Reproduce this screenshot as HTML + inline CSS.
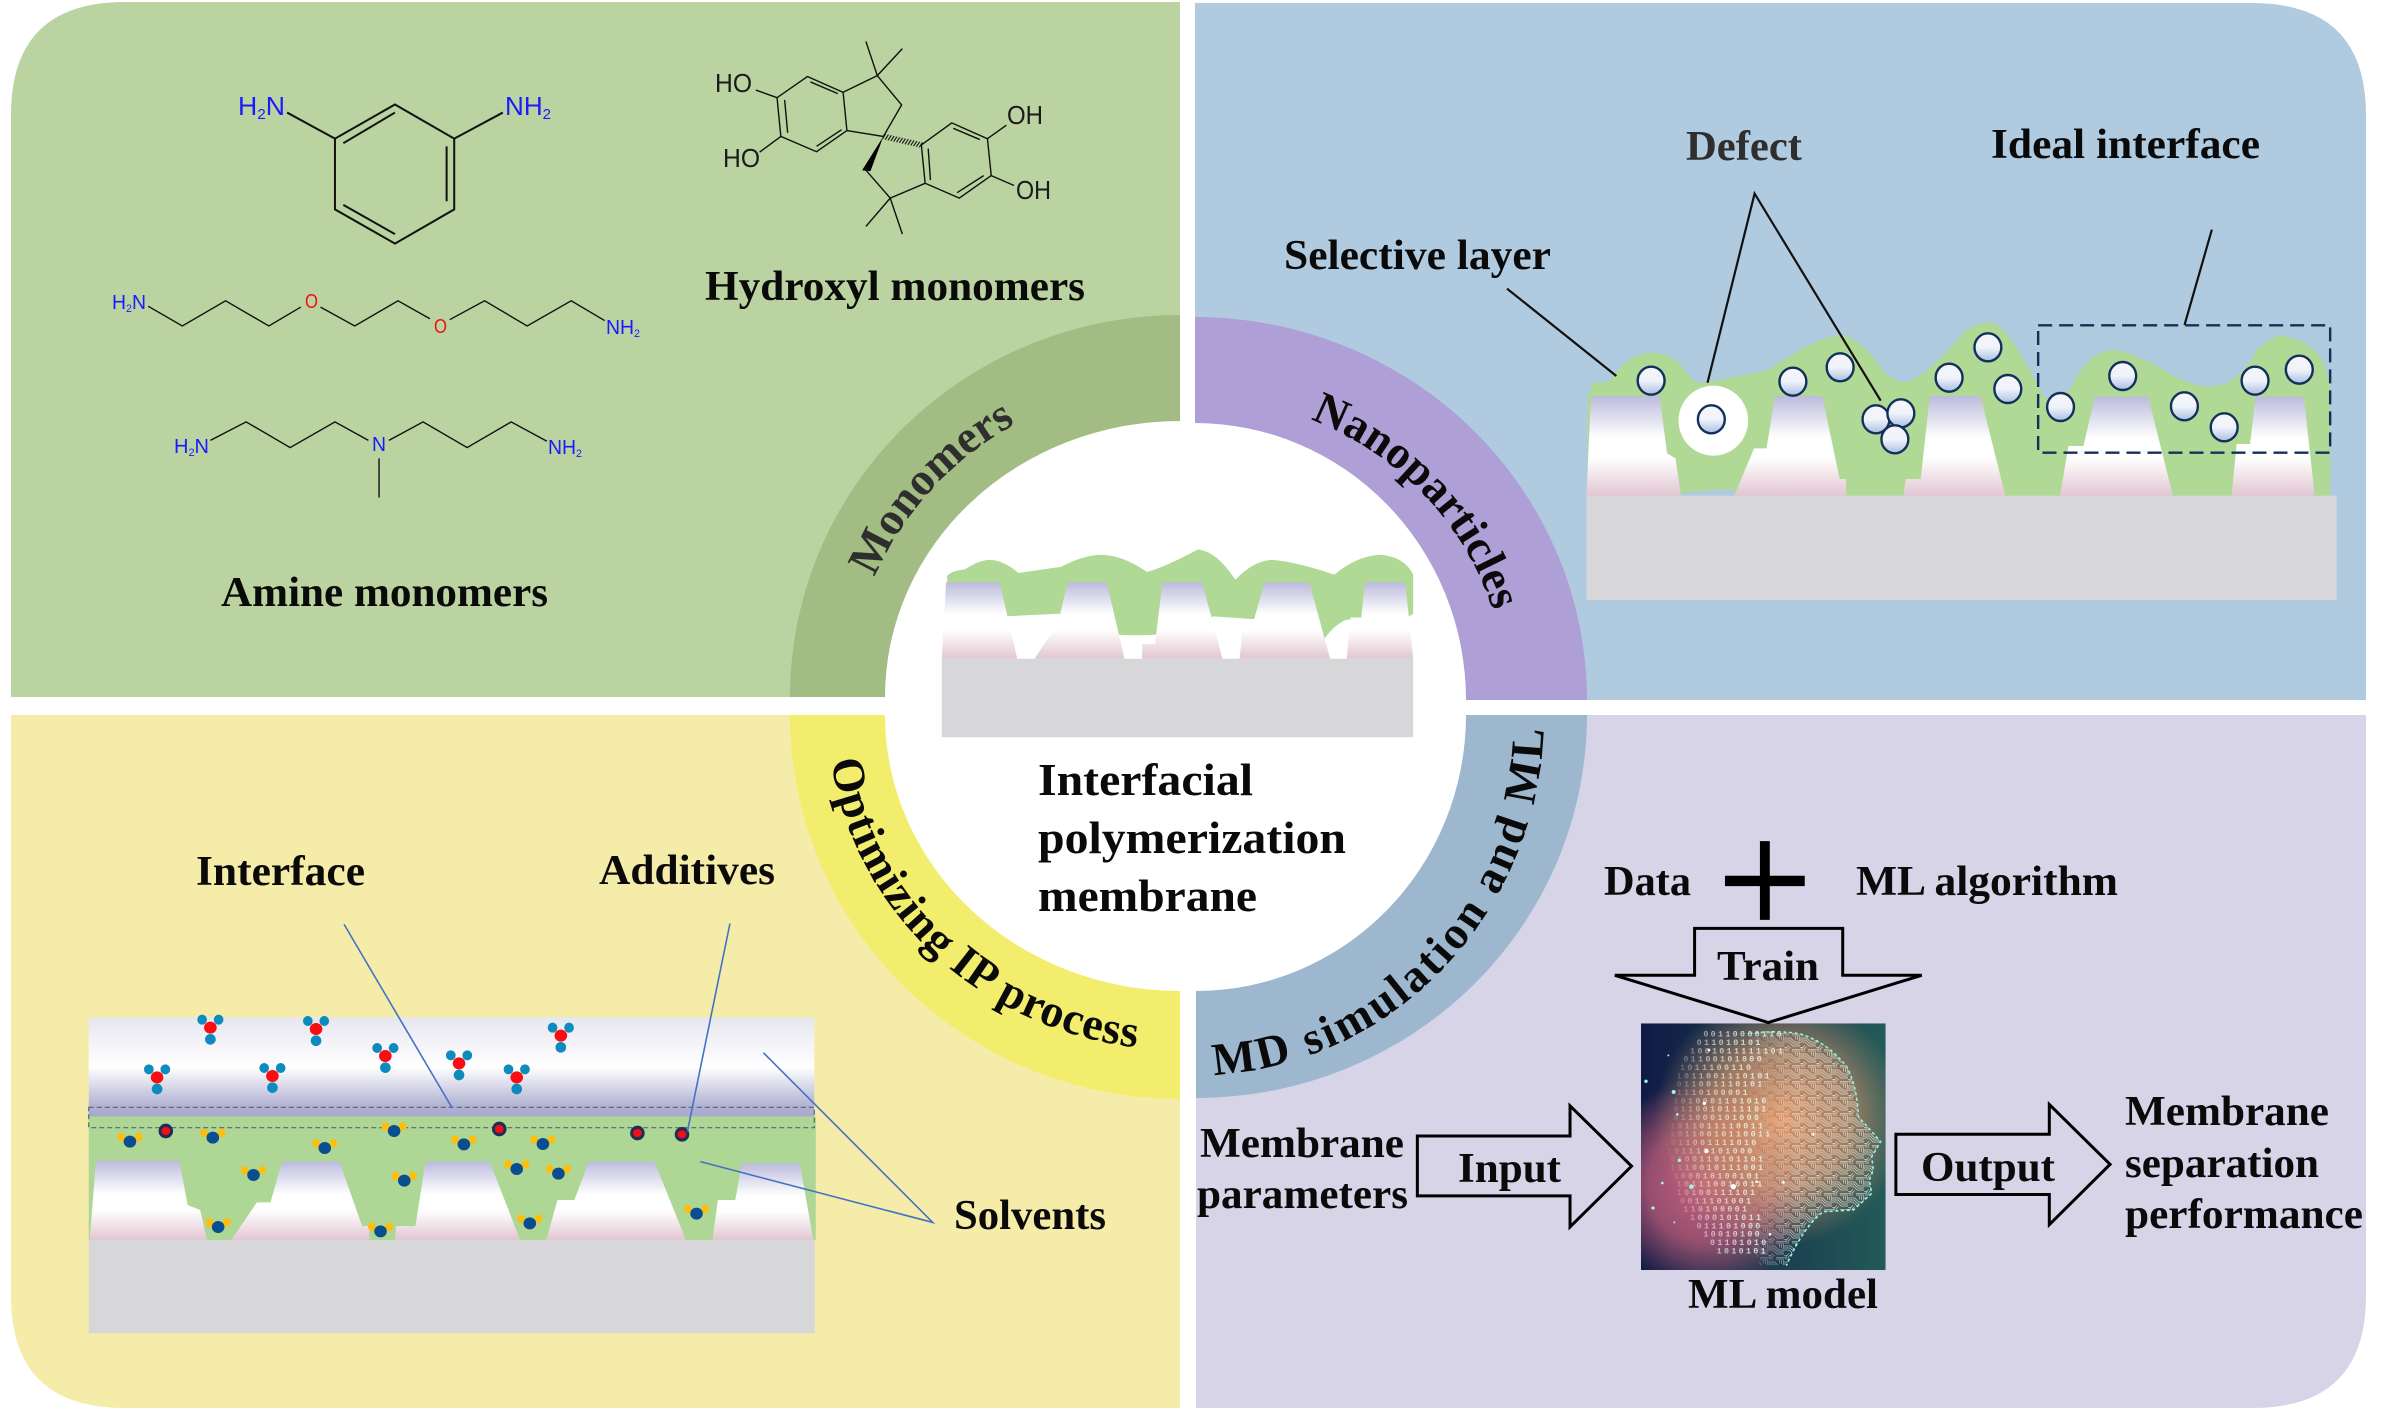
<!DOCTYPE html>
<html>
<head>
<meta charset="utf-8">
<title>Interfacial polymerization membrane</title>
<style>
html,body{margin:0;padding:0;background:#fff;width:2382px;height:1412px;overflow:hidden}
svg{display:block}
.t{font-family:"Liberation Serif",serif;font-weight:bold;font-size:42px;fill:#0a0a0a}
.c{font-family:"Liberation Sans",sans-serif;font-size:26px;fill:#1a1aff}
.k{fill:#1a1a1a}
.s{font-family:"Liberation Sans",sans-serif;font-size:20px;fill:#1a1aff}
.b{fill:none;stroke:#111;stroke-width:2;vector-effect:non-scaling-stroke}
.b2{fill:none;stroke:#111;stroke-width:1.4;vector-effect:non-scaling-stroke}
.l{fill:none;stroke:#111;stroke-width:2.2;vector-effect:non-scaling-stroke}
.bl{fill:none;stroke:#4472c4;stroke-width:1.6;vector-effect:non-scaling-stroke}
.ar{fill:none;stroke:#000;stroke-width:3;vector-effect:non-scaling-stroke}
.np{fill:url(#np);stroke:#14305a;stroke-width:2.4;vector-effect:non-scaling-stroke}
.a{font-family:"Liberation Serif",serif;font-weight:bold;font-size:46px;fill:#0a0a0a}
</style>
</head>
<body>
<svg xmlns="http://www.w3.org/2000/svg" width="2382" height="1412" viewBox="0 0 2382 1412">
<defs>
<linearGradient id="tr" x1="0" y1="0" x2="0" y2="1">
<stop offset="0" stop-color="#bcbbdc"/><stop offset=".42" stop-color="#ffffff"/><stop offset=".62" stop-color="#ffffff"/><stop offset="1" stop-color="#e2c6d2"/>
</linearGradient>
<linearGradient id="np" x1="0" y1="0" x2="0" y2="1">
<stop offset="0" stop-color="#f5f6fb"/><stop offset=".5" stop-color="#f0f3fa"/><stop offset="1" stop-color="#a9bfe2"/>
</linearGradient>
<linearGradient id="top" x1="0" y1="0" x2="0" y2="1">
<stop offset="0" stop-color="#e6e6ef"/><stop offset=".5" stop-color="#ffffff"/><stop offset=".9" stop-color="#b0b0d2"/><stop offset="1" stop-color="#a8a8cd"/>
</linearGradient>
<linearGradient id="aibase" gradientUnits="userSpaceOnUse" x1="3" y1="0" x2="737" y2="0">
<stop offset="0" stop-color="#101a45"/><stop offset="1" stop-color="#235a58"/>
</linearGradient>
<radialGradient id="aipink" gradientUnits="userSpaceOnUse" cx="200" cy="490" r="320">
<stop offset="0" stop-color="#c8607f"/><stop offset=".55" stop-color="#b85a78" stop-opacity=".8"/><stop offset="1" stop-color="#b85a78" stop-opacity="0"/>
</radialGradient>
<radialGradient id="aiorange" gradientUnits="userSpaceOnUse" cx="420" cy="300" r="380">
<stop offset="0" stop-color="#dd9468"/><stop offset=".55" stop-color="#c98f68" stop-opacity=".75"/><stop offset="1" stop-color="#b08a68" stop-opacity="0"/>
</radialGradient>
<linearGradient id="dig" gradientUnits="userSpaceOnUse" x1="70" y1="0" x2="340" y2="0">
<stop offset="0" stop-color="#fff" stop-opacity="0"/><stop offset=".5" stop-color="#f4fff8" stop-opacity=".55"/><stop offset="1" stop-color="#e6fff4" stop-opacity=".8"/>
</linearGradient>
<linearGradient id="fadeG" gradientUnits="userSpaceOnUse" x1="300" y1="0" x2="470" y2="0">
<stop offset="0" stop-color="#000"/><stop offset="1" stop-color="#fff"/>
</linearGradient>
<mask id="fade" maskUnits="userSpaceOnUse" x="0" y="0" width="780" height="810"><rect x="0" y="0" width="780" height="810" fill="url(#fadeG)"/></mask>
<pattern id="circ" patternUnits="userSpaceOnUse" width="48" height="48">
<g fill="none" stroke="#f6f4ea" stroke-width="2">
<path d="M0 6H20L32 18H48M0 12H18L30 24H48M0 18H15L27 30H48"/>
<path d="M6 48V38L15 28M12 48V40L20 32"/>
<path d="M34 0V10M40 0V12M46 0V15"/>
<path d="M0 34H9M0 40H7M24 40H48M24 45H48"/>
</g>
</pattern>
<clipPath id="aiclip"><rect x="3" y="10" width="734" height="740"/></clipPath>
<path id="pMono" d="M850 697A330 315 0 0 1 1180 382"/>
<path id="pNano" d="M1195 398A312 302 0 0 1 1507 700"/>
<path id="pOpt" d="M828 715A352 335 0 0 0 1180 1050"/>
<path id="pMD" d="M1196 1075A348 360 0 0 0 1544 715"/>
<g id="tri"><ellipse cx="-17" cy="-24" rx="10" ry="15" fill="#0d8bbd"/><ellipse cx="17" cy="-24" rx="10" ry="15" fill="#0d8bbd"/><ellipse cx="0" cy="35" rx="11" ry="16" fill="#0d8bbd"/><ellipse cx="0" cy="0" rx="13" ry="18" fill="#f70d12"/></g>
<g id="yb"><ellipse cx="-18" cy="-14" rx="8" ry="13" fill="#fcbf0e"/><ellipse cx="18" cy="-14" rx="8" ry="13" fill="#fcbf0e"/><ellipse cx="0" cy="0" rx="13" ry="18" fill="#0b4e8f"/></g>
<g id="rd"><ellipse cx="0" cy="0" rx="15" ry="22" fill="#1d2f57"/><ellipse cx="0" cy="0" rx="9" ry="12" fill="#f70d12"/></g>
</defs>

<!-- panels -->
<path d="M11 697V115Q11 2 125 2H1180V697Z" fill="#bad3a0"/>
<path d="M1195 3V700H2366V115Q2366 3 2252 3Z" fill="#b0cbdf"/>
<path d="M11 715H1180V1408H125Q11 1408 11 1296Z" fill="#f5ecaa"/>
<path d="M1196 715H2366V1296Q2366 1408 2252 1408H1196Z" fill="#d7d4e8"/>

<!-- ring -->
<path d="M790 697A390 382 0 0 1 1180 315V697Z" fill="#a2bc84"/>
<path d="M1195 317A392 383 0 0 1 1587 700H1195Z" fill="#aea0d6"/>
<path d="M790 715A390 384 0 0 0 1180 1099V715Z" fill="#f2ed6d"/>
<path d="M1196 1098A391 383 0 0 0 1587 715H1196Z" fill="#9db8ce"/>

<!-- white centre -->
<path d="M885 697A295 276 0 0 1 1180 421V697Z" fill="#fff"/>
<path d="M1195 423A271 277 0 0 1 1466 700H1195Z" fill="#fff"/>
<path d="M885 715A295 276 0 0 0 1180 991V715Z" fill="#fff"/>
<path d="M1196 991A270 276 0 0 0 1466 715H1196Z" fill="#fff"/>
<rect x="1180" y="421" width="15" height="570" fill="#fff"/>
<rect x="885" y="697" width="581" height="18" fill="#fff"/>

<!-- centre membrane -->
<g transform="translate(780 300) scale(.5357 .523)">
<path d="M312 545V528Q318 518 345 515Q375 495 395 497Q420 500 445 522L525 510Q565 488 600 487Q640 488 685 520Q720 510 780 477Q815 480 850 535Q885 497 920 497Q960 500 1035 525Q1075 490 1120 487Q1165 490 1182 525V600L1172 606L1090 607L1055 612Q1030 625 1015 650L880 610L810 605L700 640Q665 642 630 640L520 600L415 605L310 600Z" fill="#b0d995"/>
<path d="M310 540H410L443 686H302Z" fill="url(#tr)"/>
<path d="M537 540H610L643 686H475L505 640L522 605Z" fill="url(#tr)"/>
<path d="M714 540H788L826 686H676V658H700Z" fill="url(#tr)"/>
<path d="M905 540H988L1027 686H858L865 610H885Z" fill="url(#tr)"/>
<path d="M1092 540H1167L1182 686H1058L1065 607H1085Z" fill="url(#tr)"/>
<rect x="302" y="686" width="880" height="150" fill="#d7d6d8"/>
</g>

<!-- curved labels -->
<text class="a" style="fill:#2e2e2e"><textPath href="#pMono" startOffset="123">Monomers</textPath></text>
<text class="a"><textPath href="#pNano" startOffset="118">Nanoparticles</textPath></text>
<text class="a" letter-spacing=".8"><textPath href="#pOpt" startOffset="46">Optimizing IP process</textPath></text>
<text class="a" letter-spacing="3"><textPath href="#pMD" startOffset="18">MD simulation and ML</textPath></text>

<!-- centre text -->
<text class="t" style="font-size:46px" x="1038" y="795" textLength="215" lengthAdjust="spacingAndGlyphs">Interfacial</text>
<text class="t" style="font-size:46px" x="1038" y="853" textLength="308" lengthAdjust="spacingAndGlyphs">polymerization</text>
<text class="t" style="font-size:46px" x="1038" y="911" textLength="219" lengthAdjust="spacingAndGlyphs">membrane</text>

<!-- TL chem -->
<g transform="scale(.75957 .45026)">
<path class="b" d="M520 232L598 308V465L520 541L441 465V308Z"/>
<path class="b" d="M452 318L520 250M588 325V447M452 455L520 520M441 308L378 250M598 308L662 250"/>
<path class="b2" d="M195 680L240 724L297 668L354 724L396 682M422 682L467 724L524 668L566 708M592 710L638 668L694 724L752 668L796 712"/>
<path class="b2" d="M277 978L324 937L382 994L441 937L485 978M512 978L557 937L615 994L673 937L720 980M499 1018V1105"/>
<path class="b2" d="M1063 170L1110 205L1115 290L1075 337L1028 303L1023 217ZM1067 182L1103 208M1108 288L1075 325M1033 222L1037 295"/>
<path class="b2" d="M1110 205L1155 168L1187 233L1163 303L1115 290M1155 168L1140 92M1155 168L1188 108M1023 217L995 200M1028 303L1000 338"/>
<path d="M1163 303L1146 380L1135 378Z" fill="#000"/>
<path class="b2" d="M1140 378L1172 440L1218 407L1213 322L1253 273L1300 308L1305 390L1263 440L1218 407M1255 285L1290 310M1295 390L1260 428M1222 330L1225 400"/>
<path d="M1163 303L1213 322" fill="none" stroke="#111" stroke-width="12" stroke-dasharray="1.6 2.4"/>
<path class="b2" d="M1172 440L1140 503M1172 440L1188 520M1300 308L1325 278M1305 390L1335 412"/>
</g>
<text class="c" x="238" y="115" textLength="47" lengthAdjust="spacingAndGlyphs">H<tspan font-size="15" dy="4">2</tspan><tspan dy="-4">N</tspan></text>
<text class="c" x="505" y="115" textLength="46" lengthAdjust="spacingAndGlyphs">NH<tspan font-size="15" dy="4">2</tspan></text>
<text class="s" x="112" y="309" textLength="34" lengthAdjust="spacingAndGlyphs">H<tspan font-size="11" dy="3">2</tspan><tspan dy="-3">N</tspan></text>
<text class="s" x="606" y="334" textLength="34" lengthAdjust="spacingAndGlyphs">NH<tspan font-size="11" dy="3">2</tspan></text>
<text class="s" x="305" y="308" textLength="13" lengthAdjust="spacingAndGlyphs" style="fill:#f01010">O</text>
<text class="s" x="434" y="333" textLength="13" lengthAdjust="spacingAndGlyphs" style="fill:#f01010">O</text>
<text class="s" x="174" y="453" textLength="35" lengthAdjust="spacingAndGlyphs">H<tspan font-size="11" dy="3">2</tspan><tspan dy="-3">N</tspan></text>
<text class="s" x="548" y="454" textLength="34" lengthAdjust="spacingAndGlyphs">NH<tspan font-size="11" dy="3">2</tspan></text>
<text class="s" x="372" y="451" textLength="14" lengthAdjust="spacingAndGlyphs">N</text>
<text class="c k" x="715" y="92" textLength="37" lengthAdjust="spacingAndGlyphs">HO</text>
<text class="c k" x="723" y="167" textLength="37" lengthAdjust="spacingAndGlyphs">HO</text>
<text class="c k" x="1007" y="124" textLength="36" lengthAdjust="spacingAndGlyphs">OH</text>
<text class="c k" x="1016" y="199" textLength="35" lengthAdjust="spacingAndGlyphs">OH</text>
<text class="t" x="705" y="300" textLength="380" lengthAdjust="spacingAndGlyphs">Hydroxyl monomers</text>
<text class="t" x="221" y="606" textLength="327" lengthAdjust="spacingAndGlyphs">Amine monomers</text>

<!-- TR membrane -->
<g transform="translate(1580 300) scale(.49745 .33333)">
<path d="M15 587V290L25 250L60 243Q95 160 145 158Q185 155 215 220Q230 250 245 250L380 210Q480 105 530 105Q575 130 610 215Q635 250 655 245Q690 240 770 100Q800 65 825 68Q855 75 900 200L935 295L985 270Q1020 150 1075 150Q1120 160 1190 225Q1250 275 1300 250Q1340 215 1360 150Q1395 105 1410 107Q1470 120 1495 190L1508 250V587Z" fill="#b0d995"/>
<path d="M203 580L270 568L310 570V587H203Z" fill="#b0cbdf"/>
<path d="M22 288H160L175 460L192 475L203 587H13Z" fill="url(#tr)"/>
<path d="M392 288H487L522 537H535V587H310L350 445H375Z" fill="url(#tr)"/>
<path d="M703 288H805L855 587H650L655 537H685Z" fill="url(#tr)"/>
<path d="M1035 290H1142L1192 587H965L982 438H1012Z" fill="url(#tr)"/>
<path d="M1358 290H1455L1477 587H1310L1320 432H1347Z" fill="url(#tr)"/>
<ellipse cx="268" cy="362" rx="70" ry="105" fill="#fff"/>
<rect x="13" y="587" width="1508" height="313" fill="#d7d6d8"/>
<ellipse class="np" cx="143" cy="242" rx="27" ry="42"/>
<ellipse class="np" cx="264" cy="358" rx="27" ry="42"/>
<ellipse class="np" cx="428" cy="245" rx="27" ry="42"/>
<ellipse class="np" cx="523" cy="202" rx="27" ry="42"/>
<ellipse class="np" cx="595" cy="358" rx="27" ry="42"/>
<ellipse class="np" cx="645" cy="340" rx="27" ry="42"/>
<ellipse class="np" cx="633" cy="418" rx="27" ry="42"/>
<ellipse class="np" cx="742" cy="233" rx="27" ry="42"/>
<ellipse class="np" cx="820" cy="142" rx="27" ry="42"/>
<ellipse class="np" cx="860" cy="267" rx="27" ry="42"/>
<ellipse class="np" cx="966" cy="321" rx="27" ry="42"/>
<ellipse class="np" cx="1091" cy="228" rx="27" ry="42"/>
<ellipse class="np" cx="1215" cy="319" rx="27" ry="42"/>
<ellipse class="np" cx="1295" cy="382" rx="27" ry="42"/>
<ellipse class="np" cx="1357" cy="242" rx="27" ry="42"/>
<ellipse class="np" cx="1446" cy="209" rx="27" ry="42"/>
<rect x="921" y="76" width="587" height="382" fill="none" stroke="#14305a" stroke-width="2.4" stroke-dasharray="14 7" vector-effect="non-scaling-stroke"/>
</g>
<g transform="translate(1191 0) scale(.75957 .45026)">
<path class="l" d="M416 641L560 835M680 850L742 430L908 890M1344 510L1308 722"/>
</g>
<text class="t" x="1686" y="160" textLength="116" lengthAdjust="spacingAndGlyphs" style="fill:#2e2e2e">Defect</text>
<text class="t" x="1991" y="158" textLength="269" lengthAdjust="spacingAndGlyphs">Ideal interface</text>
<text class="t" x="1284" y="269" textLength="267" lengthAdjust="spacingAndGlyphs">Selective layer</text>

<!-- BL membrane -->
<g transform="translate(80 1000) scale(.4847 .33333)">
<rect x="18" y="52" width="1497" height="298" fill="url(#top)"/>
<rect x="18" y="350" width="1500" height="370" fill="#aed795"/>
<path d="M33 482H205L222 615L248 630L262 720H20Z" fill="url(#tr)"/>
<path d="M417 484H535L582 678H597V720H312L365 607H393Z" fill="url(#tr)"/>
<path d="M713 484H845L908 720H650L652 678H692Z" fill="url(#tr)"/>
<path d="M1050 484H1185L1250 720H962L985 600H1020Z" fill="url(#tr)"/>
<path d="M1365 490H1485L1513 720H1305L1316 600H1352Z" fill="url(#tr)"/>
<rect x="18" y="720" width="1498" height="280" fill="#d7d6d8"/>
<rect x="18" y="322" width="1497" height="61" fill="none" stroke="#5c6478" stroke-width="1.2" stroke-dasharray="5 3" vector-effect="non-scaling-stroke"/>
<use href="#tri" x="269" y="83"/><use href="#tri" x="487" y="87"/><use href="#tri" x="630" y="168"/><use href="#tri" x="782" y="190"/><use href="#tri" x="992" y="107"/><use href="#tri" x="159" y="232"/><use href="#tri" x="397" y="228"/><use href="#tri" x="901" y="232"/>
<use href="#yb" x="103" y="425"/><use href="#yb" x="274" y="413"/><use href="#yb" x="505" y="444"/><use href="#yb" x="648" y="393"/><use href="#yb" x="792" y="433"/><use href="#yb" x="955" y="432"/><use href="#yb" x="358" y="525"/><use href="#yb" x="669" y="542"/><use href="#yb" x="901" y="507"/><use href="#yb" x="987" y="521"/><use href="#yb" x="285" y="681"/><use href="#yb" x="620" y="694"/><use href="#yb" x="928" y="670"/><use href="#yb" x="1272" y="641"/>
<use href="#rd" x="177" y="393"/><use href="#rd" x="865" y="387"/><use href="#rd" x="1150" y="399"/><use href="#rd" x="1242" y="403"/>
</g>
<g transform="translate(0 706) scale(.75957 .45026)">
<path class="bl" d="M453 485L595 892M961 483L905 945M1005 770L1228 1147L922 1012"/>
</g>
<text class="t" x="196" y="885" textLength="169" lengthAdjust="spacingAndGlyphs">Interface</text>
<text class="t" x="599" y="884" textLength="176" lengthAdjust="spacingAndGlyphs">Additives</text>
<text class="t" x="954" y="1229" textLength="152" lengthAdjust="spacingAndGlyphs">Solvents</text>

<!-- BR -->
<g transform="translate(1640 1020) scale(.33333)">
<g clip-path="url(#aiclip)">
<rect x="3" y="10" width="734" height="740" fill="url(#aibase)"/>
<rect x="3" y="10" width="734" height="740" fill="url(#aipink)"/>
<rect x="3" y="10" width="734" height="740" fill="url(#aiorange)"/>
<g font-family="'Liberation Mono',monospace" font-weight="bold" font-size="25" fill="url(#dig)" letter-spacing="7">
<text x="190" y="50">00110000110</text>
<text x="170" y="75">011010101</text>
<text x="150" y="100">1001011111101</text>
<text x="130" y="125">01100101000</text>
<text x="120" y="150">1011100110</text>
<text x="110" y="175">1011001110101</text>
<text x="110" y="200">011001110101</text>
<text x="110" y="225">1110100001</text>
<text x="100" y="250">1010001101010</text>
<text x="100" y="275">0110010111101</text>
<text x="100" y="300">011000101000</text>
<text x="90" y="325">1011011110011</text>
<text x="90" y="350">10110010110011</text>
<text x="70" y="375">1011001111010</text>
<text x="80" y="400">101110101000</text>
<text x="90" y="425">0100110101101</text>
<text x="90" y="450">1110010111001</text>
<text x="100" y="475">100010100101</text>
<text x="110" y="500">101110010011</text>
<text x="110" y="525">10100111101</text>
<text x="120" y="550">0011101001</text>
<text x="130" y="575">110100001</text>
<text x="150" y="600">1000101011</text>
<text x="170" y="625">011101000</text>
<text x="190" y="650">10010100</text>
<text x="210" y="675">01101010</text>
<text x="230" y="700">1010101</text>
</g>
<path d="M330 40Q420 30 480 42Q560 65 620 140Q652 200 655 290L722 365L695 410L700 450L688 480L695 520L640 570L550 575Q490 620 440 735L360 735L300 600L320 300Z" fill="url(#circ)" opacity=".8" mask="url(#fade)"/>
<path d="M330 40Q420 30 480 42Q560 65 620 140Q652 200 655 290L722 365L695 410L700 450L688 480L695 520L640 570L550 575Q490 620 440 735" fill="none" stroke="#8ff3e0" stroke-width="5" stroke-dasharray="5 12" stroke-linecap="round"/>
<g fill="#9ff5ea"><circle cx="18" cy="184" r="5"/><circle cx="85" cy="106" r="3"/><circle cx="101" cy="216" r="6"/><circle cx="112" cy="283" r="4"/><circle cx="118" cy="421" r="5"/><circle cx="67" cy="489" r="4"/><circle cx="154" cy="500" r="7"/><circle cx="39" cy="564" r="5"/><circle cx="103" cy="607" r="3"/></g>
<g fill="#fff"><circle cx="207" cy="90" r="4"/><circle cx="193" cy="250" r="5"/><circle cx="280" cy="500" r="8"/><circle cx="200" cy="393" r="6"/><circle cx="350" cy="485" r="4"/><circle cx="430" cy="487" r="4"/><circle cx="390" cy="643" r="4"/><circle cx="520" cy="343" r="4"/></g>
</g>
</g>
<g transform="translate(1191 706) scale(.75957 .45026)">
<path d="M749 300H762V475H749Z" fill="#000"/>
<path d="M703 377H808V400H703Z" fill="#000"/>
<path class="ar" d="M663 494H858V598H962L760 703L558 598H663Z"/>
<path class="ar" d="M298 955H499V888L580 1022L499 1157V1088H298Z"/>
<path class="ar" d="M928 951H1130V885L1210 1018L1130 1152V1085H928Z"/>
</g>
<text class="t" x="1604" y="895" textLength="87" lengthAdjust="spacingAndGlyphs">Data</text>
<text class="t" x="1856" y="895" textLength="262" lengthAdjust="spacingAndGlyphs">ML algorithm</text>
<text class="t" x="1717" y="980" textLength="102" lengthAdjust="spacingAndGlyphs">Train</text>
<text class="t" x="1200" y="1157" textLength="204" lengthAdjust="spacingAndGlyphs">Membrane</text>
<text class="t" x="1197" y="1208" textLength="211" lengthAdjust="spacingAndGlyphs">parameters</text>
<text class="t" x="1458" y="1182" textLength="103" lengthAdjust="spacingAndGlyphs">Input</text>
<text class="t" x="1921" y="1181" textLength="134" lengthAdjust="spacingAndGlyphs">Output</text>
<text class="t" x="2125" y="1125" textLength="204" lengthAdjust="spacingAndGlyphs">Membrane</text>
<text class="t" x="2125" y="1177" textLength="194" lengthAdjust="spacingAndGlyphs">separation</text>
<text class="t" x="2125" y="1228" textLength="238" lengthAdjust="spacingAndGlyphs">performance</text>
<text class="t" x="1688" y="1308" textLength="190" lengthAdjust="spacingAndGlyphs">ML model</text>
</svg>
</body>
</html>
